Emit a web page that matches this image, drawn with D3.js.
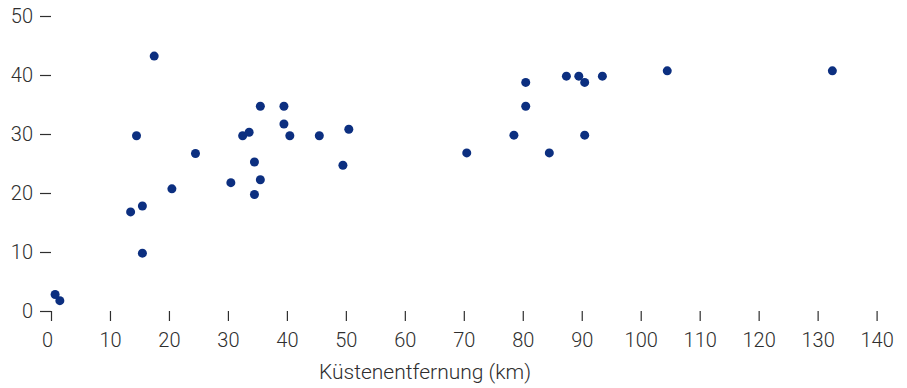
<!DOCTYPE html>
<meta charset="utf-8">
<style>
body { margin: 0; background: #fff; }
text { font-family: Roboto, "Liberation Sans", sans-serif; font-weight: 300; fill: #2e2e2e; }
</style>
<svg width="907" height="388"></svg>
<script src="https://d3js.org/d3.v7.min.js"></script>
<script>

// Küstenentfernung (km)
var distance = [0.7, 1.5, 15.5, 17.5, 14.5, 35.5, 39.5, 39.5, 32.5, 33.6, 40.5, 45.5, 50.5,
  24.5, 34.5, 49.5, 35.5, 30.5, 20.5, 34.5, 15.5, 13.5,
  80.5, 80.5, 87.4, 89.5, 90.5, 93.5, 78.5, 90.5, 70.5, 84.5, 104.5, 132.5];
var values = [2.8, 1.75, 9.8, 43.2, 29.7, 34.7, 34.7, 31.7, 29.7, 30.3, 29.7, 29.7, 30.8,
  26.7, 25.25, 24.7, 22.25, 21.75, 20.7, 19.75, 17.8, 16.8,
  38.75, 34.7, 39.8, 39.8, 38.75, 39.8, 29.8, 29.8, 26.8, 26.8, 40.7, 40.7];
var xTicks = [0, 10, 20, 30, 40, 50, 60, 70, 80, 90, 100, 110, 120, 130, 140];
var yTicks = [0, 10, 20, 30, 40, 50];

var svg = d3.select("svg");

var x = d3.scaleLinear().domain([0, 140]).range([51, 876.6]);
var y = d3.scaleLinear().domain([0, 50]).range([311, 16]);

// y axis: ticks only, no domain line
var yAxis = svg.append("g")
    .attr("transform", "translate(51,0)")
    .call(d3.axisLeft(y).tickValues(yTicks).tickSize(11).tickPadding(7));
yAxis.select(".domain").remove();

// x axis
var xAxis = svg.append("g")
    .attr("transform", "translate(0,311)")
    .call(d3.axisBottom(x).tickValues(xTicks).tickSize(10).tickPadding(12));
xAxis.select(".domain").remove();

svg.selectAll(".tick line").attr("stroke", "#2e2e2e").attr("stroke-width", 1.2);
svg.selectAll(".tick text").style("font-size", "20px").attr("fill", "#2e2e2e");
xAxis.selectAll(".tick text").filter(function(d) { return d === 0; }).attr("dx", -4);

svg.append("text")
    .attr("x", 425)
    .attr("y", 379)
    .attr("text-anchor", "middle")
    .style("font-size", "21px")
    .text("Küstenentfernung (km)");

svg.append("g").selectAll("circle")
  .data(distance)
  .enter().append("circle")
    .attr("cx", function(d) { return x(d); })
    .attr("cy", function(d, i) { return y(values[i]); })
    .attr("r", 4.5)
    .attr("fill", "#0c2f80");

</script>
